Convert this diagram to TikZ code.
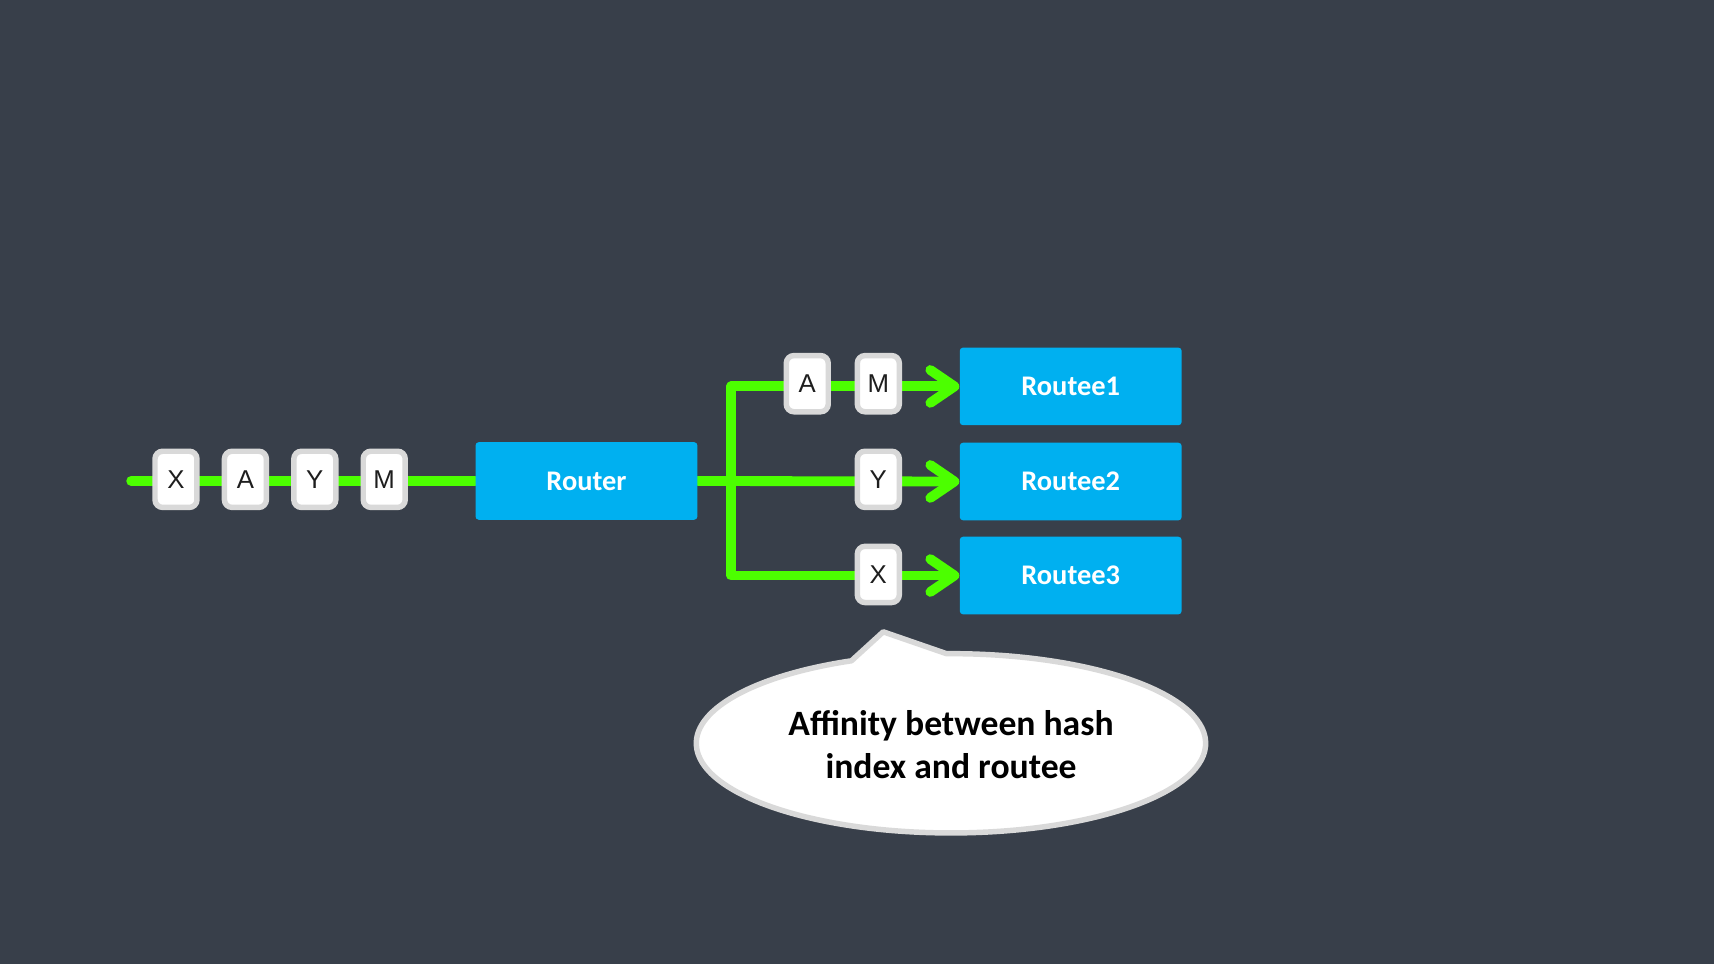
\documentclass[tikz,border=0pt]{standalone}
\usepackage{fontspec}
\setmainfont{Carlito}
\newfontfamily\letterfont{Liberation Sans}
\usetikzlibrary{arrows.meta}
\definecolor{bgc}{RGB}{56,63,74}
\definecolor{grn}{RGB}{76,255,0}
\definecolor{blu}{RGB}{0,176,240}
\definecolor{gry}{RGB}{217,217,217}
\definecolor{ink}{RGB}{30,30,30}
\pgfdeclarelayer{bglayer}
\pgfdeclarelayer{linelayer}
\pgfsetlayers{bglayer,linelayer,main}
\tikzset{
  msgbox/.style={draw=gry, line width=2.5pt, fill=white, rounded corners=3.5pt,
    minimum width=19.2pt, minimum height=25.7pt, inner sep=0pt,
    font=\letterfont\fontsize{11.8pt}{13pt}\selectfont, text=ink},
  actor/.style={fill=blu, rounded corners=1.5pt, minimum width=101.5pt,
    minimum height=35.5pt, inner sep=0pt, text=white,
    font=\bfseries\fontsize{13pt}{15pt}\selectfont},
  flow/.style={draw=grn, line width=4.5pt, line cap=round, line join=round},
  flowarrow/.style={flow, -{Straight Barb[round, length=11pt, width=15pt]}},
}
\begin{document}
\begin{tikzpicture}[x=0.5pt,y=-0.5pt]
\begin{pgfonlayer}{bglayer}
\fill[bgc] (0,0) rectangle (1568,882);
\end{pgfonlayer}
\useasboundingbox (0,0) rectangle (1568,882);

% actors
\node[actor] (router) at (536.5,440) {Router};
\node[actor] (r1) at (979.5,353.5) {Routee1};
\node[actor] (r2) at (979.5,440.5) {Routee2};
\node[actor] (r3) at (979.5,526.5) {Routee3};

% incoming messages
\node[msgbox] (inX) at (161,438.5) {X};
\node[msgbox] (inA) at (224.5,438.5) {A};
\node[msgbox] (inY) at (288,438.5) {Y};
\node[msgbox] (inM) at (351.5,438.5) {M};

% routed messages
\node[msgbox] (oA) at (738.5,351) {A};
\node[msgbox] (oM) at (803.5,351) {M};
\node[msgbox] (oY) at (803.5,438.5) {Y};
\node[msgbox] (oX) at (803.5,525.5) {X};

\coordinate (start) at (120,440);
\coordinate (j) at (669,440);

\begin{pgfonlayer}{linelayer}
\draw[flow] (start) -- (router.west);
\draw[flowarrow] (router.east) -- (r2.west);
\draw[flowarrow] (j) |- (r1.west);
\draw[flowarrow] (j) |- (r3.west);
\end{pgfonlayer}

% speech bubble
\draw[draw=gry, line width=2.5pt, fill=white, line join=round]
  (865.9,598) arc[start angle=-91, end angle=247, x radius=233, y radius=82]
  -- (808,578) -- cycle;
\node[align=center, text=black, font=\bfseries\fontsize{16.3pt}{19.5pt}\selectfont]
  (note) at (870,681) {Affinity between hash\\index and routee};
\end{tikzpicture}
\end{document}
